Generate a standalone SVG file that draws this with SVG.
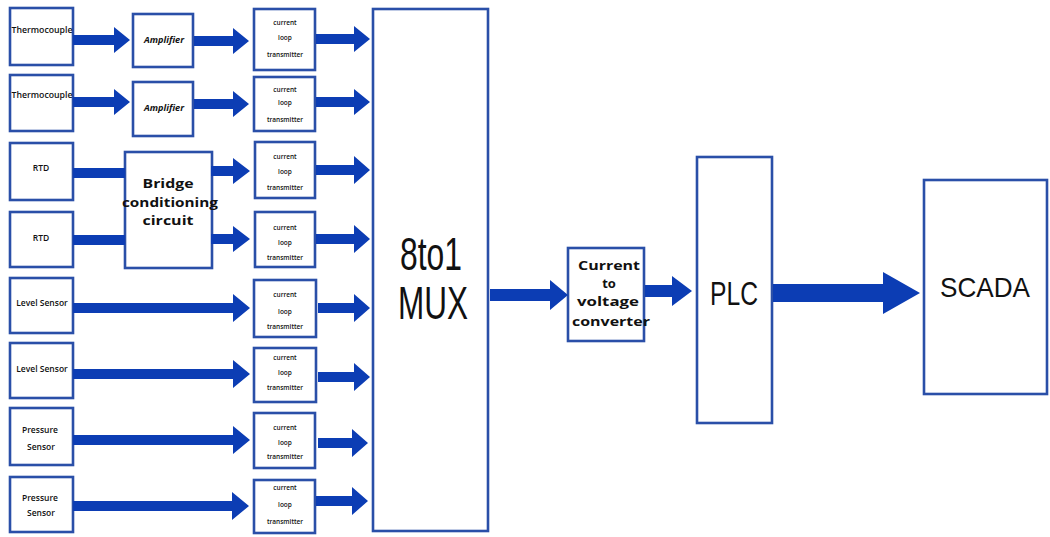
<svg xmlns="http://www.w3.org/2000/svg" width="1050" height="537" viewBox="0 0 1050 537">
<style>
.box{fill:#fff;stroke:#2a4fa8;stroke-width:2.6}
.arr{fill:#0c3db4}
.s{font-family:"Open Sans","Liberation Sans",sans-serif;font-size:8.5px;font-weight:600;fill:#111;text-anchor:middle}
.t{font-family:"Open Sans","Liberation Sans",sans-serif;font-size:6.5px;font-weight:600;fill:#111;text-anchor:middle}
.a{font-family:"Open Sans","Liberation Sans",sans-serif;font-size:8.5px;font-style:italic;font-weight:700;fill:#111;text-anchor:middle}
.b{font-family:"Open Sans","Liberation Sans",sans-serif;font-size:13px;font-weight:700;fill:#111;text-anchor:middle}
.big{font-family:"Liberation Sans","Arial",sans-serif;fill:#111;text-anchor:middle}
</style>
<rect width="1050" height="537" fill="#fff"/>
<g id="nodes">
<g id="tc1"><rect class="box" x="10" y="8" width="63" height="57"/><text class="s" x="42" y="33" textLength="61" lengthAdjust="spacingAndGlyphs">Thermocouple</text></g>
<g id="tc2"><rect class="box" x="10" y="75" width="63" height="56"/><text class="s" x="42" y="98" textLength="61" lengthAdjust="spacingAndGlyphs">Thermocouple</text></g>
<g id="amp1"><rect class="box" x="133" y="14" width="60" height="53"/><text class="a" x="164" y="43" textLength="40" lengthAdjust="spacingAndGlyphs">Amplifier</text></g>
<g id="amp2"><rect class="box" x="133" y="82" width="60" height="54"/><text class="a" x="164" y="111" textLength="40" lengthAdjust="spacingAndGlyphs">Amplifier</text></g>
<g id="rtd1"><rect class="box" x="10" y="143" width="63" height="57"/><text class="s" x="41" y="171">RTD</text></g>
<g id="rtd2"><rect class="box" x="10" y="212" width="63" height="55"/><text class="s" x="41" y="241">RTD</text></g>
<g id="bridge"><rect class="box" x="125" y="152" width="87" height="116"/><text class="b" x="168" y="188" textLength="51" lengthAdjust="spacingAndGlyphs">Bridge</text><text class="b" x="170" y="206.5" textLength="96" lengthAdjust="spacingAndGlyphs">conditioning</text><text class="b" x="168" y="225" textLength="51" lengthAdjust="spacingAndGlyphs">circuit</text></g>
<g id="lvl1"><rect class="box" x="10" y="278" width="63" height="55"/><text class="s" x="42" y="306">Level Sensor</text></g>
<g id="lvl2"><rect class="box" x="10" y="343" width="63" height="55"/><text class="s" x="42" y="372">Level Sensor</text></g>
<g id="pr1"><rect class="box" x="10" y="408" width="63" height="57"/><text class="s" x="40" y="433">Pressure</text><text class="s" x="41" y="450">Sensor</text></g>
<g id="pr2"><rect class="box" x="10" y="477" width="63" height="55"/><text class="s" x="40" y="501">Pressure</text><text class="s" x="41" y="516">Sensor</text></g>
<g id="clt1"><rect class="box" x="254" y="9" width="61" height="61"/><text class="t" x="285" y="25">current</text><text class="t" x="285" y="40">loop</text><text class="t" x="285" y="57">transmitter</text></g>
<g id="clt2"><rect class="box" x="254" y="77" width="61" height="54"/><text class="t" x="285" y="92">current</text><text class="t" x="285" y="105">loop</text><text class="t" x="285" y="122">transmitter</text></g>
<g id="clt3"><rect class="box" x="255" y="142" width="60" height="56"/><text class="t" x="285" y="159">current</text><text class="t" x="285" y="174">loop</text><text class="t" x="285" y="190">transmitter</text></g>
<g id="clt4"><rect class="box" x="255" y="212" width="60" height="55"/><text class="t" x="285" y="230">current</text><text class="t" x="285" y="245">loop</text><text class="t" x="285" y="260">transmitter</text></g>
<g id="clt5"><rect class="box" x="254" y="280" width="62" height="57"/><text class="t" x="285" y="297">current</text><text class="t" x="285" y="314">loop</text><text class="t" x="285" y="329">transmitter</text></g>
<g id="clt6"><rect class="box" x="254" y="348" width="62" height="54"/><text class="t" x="285" y="360">current</text><text class="t" x="285" y="375">loop</text><text class="t" x="285" y="390">transmitter</text></g>
<g id="clt7"><rect class="box" x="254" y="413" width="61" height="55"/><text class="t" x="285" y="430">current</text><text class="t" x="285" y="445">loop</text><text class="t" x="285" y="459">transmitter</text></g>
<g id="clt8"><rect class="box" x="254" y="480" width="61" height="53"/><text class="t" x="285" y="490">current</text><text class="t" x="285" y="507">loop</text><text class="t" x="285" y="524">transmitter</text></g>
<g id="mux"><rect class="box" x="373" y="9" width="115" height="522"/><text class="big" x="431" y="270" font-size="46" textLength="62" lengthAdjust="spacingAndGlyphs">8to1</text><text class="big" x="433" y="319" font-size="46" textLength="70" lengthAdjust="spacingAndGlyphs">MUX</text></g>
<g id="conv"><rect class="box" x="568" y="248" width="76" height="93"/><text class="b" x="609" y="270" textLength="62" lengthAdjust="spacingAndGlyphs">Current</text><text class="b" x="609" y="288">to</text><text class="b" x="608" y="306" textLength="62" lengthAdjust="spacingAndGlyphs">voltage</text><text class="b" x="611" y="326" textLength="78" lengthAdjust="spacingAndGlyphs">converter</text></g>
<g id="plc"><rect class="box" x="697" y="157" width="75" height="266"/><text class="big" x="734" y="305" font-size="34" textLength="48" lengthAdjust="spacingAndGlyphs">PLC</text></g>
<g id="scada"><rect class="box" x="924" y="180" width="123" height="214"/><text class="big" x="985" y="297" font-size="28" textLength="90" lengthAdjust="spacingAndGlyphs">SCADA</text></g>
</g>
<g id="connectors">
<polygon class="arr" points="73,35 114,35 114,27 130,40 114,53 114,45 73,45"/>
<polygon class="arr" points="194,36 233,36 233,28 249,41 233,54 233,46 194,46"/>
<polygon class="arr" points="316,34 354,34 354,26 370,39 354,52 354,44 316,44"/>
<polygon class="arr" points="73,97 114,97 114,89 130,102 114,115 114,107 73,107"/>
<polygon class="arr" points="194,99 233,99 233,91 249,104 233,117 233,109 194,109"/>
<polygon class="arr" points="316,97 354,97 354,89 370,102 354,115 354,107 316,107"/>
<rect class="arr" x="73" y="168" width="52" height="10"/>
<polygon class="arr" points="211,166 233,166 233,158 250,171 233,184 233,176 211,176"/>
<polygon class="arr" points="316,165 354,165 354,156 370,170 354,184 354,175 316,175"/>
<rect class="arr" x="73" y="235" width="52" height="10"/>
<polygon class="arr" points="211,234 233,234 233,226 250,239 233,252 233,244 211,244"/>
<polygon class="arr" points="316,234 354,234 354,225 370,239 354,253 354,244 316,244"/>
<polygon class="arr" points="73,303 233,303 233,294 250,308 233,322 233,313 73,313"/>
<polygon class="arr" points="318,303 354,303 354,294 370,308 354,322 354,313 318,313"/>
<polygon class="arr" points="73,369 233,369 233,360 250,374 233,388 233,379 73,379"/>
<polygon class="arr" points="318,372 354,372 354,363 370,377 354,391 354,382 318,382"/>
<polygon class="arr" points="73,435 233,435 233,426 250,440 233,454 233,445 73,445"/>
<polygon class="arr" points="318,438 352,438 352,429 368,443 352,457 352,448 318,448"/>
<polygon class="arr" points="73,501 232,501 232,492 249,506 232,520 232,511 73,511"/>
<polygon class="arr" points="316,496 352,496 352,487 368,501 352,515 352,506 316,506"/>
<polygon class="arr" points="490,289 550,289 550,280 568,295 550,310 550,301 490,301"/>
<polygon class="arr" points="645,285 672,285 672,276 692,291 672,306 672,297 645,297"/>
<polygon class="arr" points="773,284 883,284 883,272 920,293 883,314 883,302 773,302"/>
</g>
</svg>
